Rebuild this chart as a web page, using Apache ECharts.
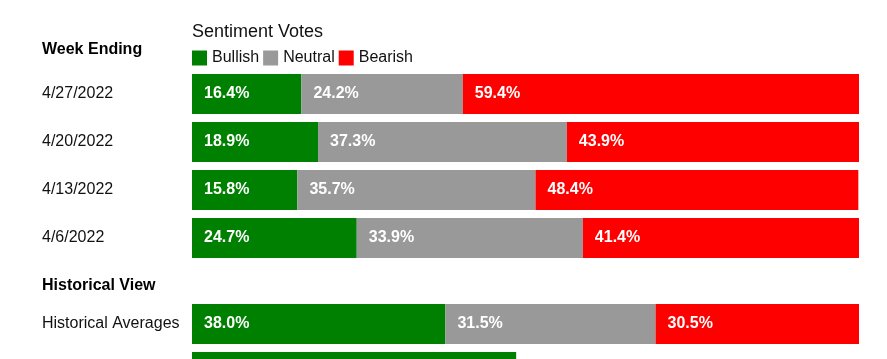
<!DOCTYPE html>
<html>
<head>
<meta charset="utf-8">
<script src="https://cdn.jsdelivr.net/npm/echarts@6/dist/echarts.min.js"></script>
<style>
html,body{margin:0;padding:0;background:#fff;}
#chart{width:887px;height:359px;}
</style>
</head>
<body>
<div id="chart"></div>
<script>
const weekCategories = ['4/27/2022', '4/20/2022', '4/13/2022', '4/6/2022'];
const weekBullish = [16.4, 18.9, 15.8, 24.7];
const weekNeutral = [24.2, 37.3, 35.7, 33.9];
const weekBearish = [59.4, 43.9, 48.4, 41.4];

const histCategories = ['Historical Averages', '1-Year Bullish High'];
const histBullish = [38.0, 48.6];
const histNeutral = [31.5, null];
const histBearish = [30.5, null];

const seriesNames = ['Bullish', 'Neutral', 'Bearish'];
const seriesColors = ['#008000', '#999999', '#ff0000'];

const FONT = 'Arial, "Liberation Sans", sans-serif';
const chart = echarts.init(document.getElementById('chart'));

const labelCfg = {
  show: true,
  position: 'insideLeft',
  distance: 12,
  color: '#fff',
  fontWeight: 'bold',
  fontSize: 16,
  fontFamily: FONT,
  textBorderWidth: 0,
  formatter: p => (p.value == null ? '' : p.value.toFixed(1) + '%')
};

function mkSeries(name, color, data, idx, stack) {
  return {
    name: name, type: 'bar', stack: stack,
    xAxisIndex: idx, yAxisIndex: idx,
    barWidth: 40,
    itemStyle: { color: color },
    label: labelCfg,
    emphasis: { disabled: true },
    data: data
  };
}

const yAxisCommon = {
  type: 'category', inverse: true,
  axisLine: { show: false }, axisTick: { show: false },
  axisLabel: { align: 'left', margin: 150, fontSize: 16, color: '#111', fontFamily: FONT }
};
const xAxisCommon = { type: 'value', min: 0, max: 100, show: false };

chart.setOption({
  animation: false,
  textStyle: { fontFamily: FONT },
  title: [
    { text: 'Sentiment Votes', left: 192, top: 23, padding: 0,
      textStyle: { fontSize: 18, fontWeight: 'normal', color: '#111', fontFamily: FONT } },
    { text: 'Week Ending', left: 42, top: 42, padding: 0,
      textStyle: { fontSize: 16, fontWeight: 'bold', color: '#000', fontFamily: FONT } },
    { text: 'Historical View', left: 42, top: 278, padding: 0,
      textStyle: { fontSize: 16, fontWeight: 'bold', color: '#000', fontFamily: FONT } }
  ],
  legend: {
    data: seriesNames, left: 192, top: 50, padding: 0,
    icon: 'rect', itemWidth: 15, itemHeight: 15, itemGap: 4,
    textStyle: { fontSize: 16, color: '#111', fontFamily: FONT }
  },
  grid: [
    { left: 192, right: 28, top: 70, height: 192, outerBoundsMode: 'none', containLabel: false },
    { left: 192, right: 28, top: 300, height: 96, outerBoundsMode: 'none', containLabel: false }
  ],
  xAxis: [Object.assign({ gridIndex: 0 }, xAxisCommon), Object.assign({ gridIndex: 1 }, xAxisCommon)],
  yAxis: [
    Object.assign({ gridIndex: 0, data: weekCategories }, yAxisCommon),
    Object.assign({ gridIndex: 1, data: histCategories }, yAxisCommon)
  ],
  series: [
    mkSeries('Bullish', seriesColors[0], weekBullish, 0, 'w'),
    mkSeries('Neutral', seriesColors[1], weekNeutral, 0, 'w'),
    mkSeries('Bearish', seriesColors[2], weekBearish, 0, 'w'),
    mkSeries('Bullish', seriesColors[0], histBullish, 1, 'h'),
    mkSeries('Neutral', seriesColors[1], histNeutral, 1, 'h'),
    mkSeries('Bearish', seriesColors[2], histBearish, 1, 'h')
  ]
});
</script>
</body>
</html>
